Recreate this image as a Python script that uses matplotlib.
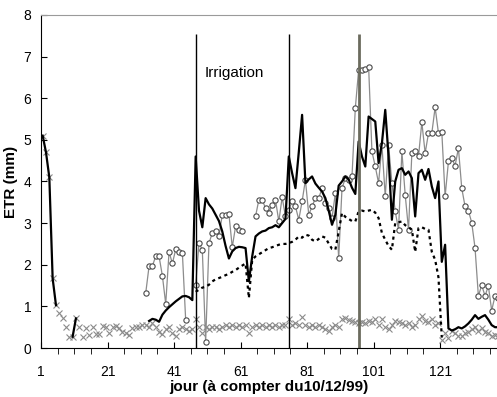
"""
ETR (mm) per day, with the three irrigation dates marked.
"""
import matplotlib
matplotlib.use("Agg")
import matplotlib.pyplot as plt
import numpy as np

plt.rcParams["font.family"] = ["Liberation Sans Narrow", "Liberation Sans", "DejaVu Sans"]

nan = np.nan
days = np.arange(1, 139)

# soil evaporation (crosses), days 1..138
etr_sol = [
    5.1, 4.7, 4.1, 1.67, 1.03, 0.83, 0.71, 0.51, 0.27, 0.27,
    0.71, 0.51, 0.27, 0.47, 0.31, 0.51, 0.34, 0.34, 0.53, 0.51,
    0.35, 0.51, 0.53, 0.47, 0.39, 0.35, 0.31, 0.47, 0.51, 0.51,
    0.55, 0.55, 0.51, 0.59, 0.51, 0.39, 0.34, 0.45, 0.5, 0.35,
    0.3, 0.45, 0.5, 0.45, 0.4, 0.45, 0.7, 0.5, 0.35, 0.5,
    0.45, 0.5, 0.5, 0.45, 0.5, 0.55, 0.5, 0.55, 0.5, 0.55,
    0.5, 0.55, 0.35, 0.5, 0.55, 0.5, 0.55, 0.5, 0.55, 0.5,
    0.55, 0.5, 0.55, 0.55, 0.7, 0.55, 0.6, 0.55, 0.75, 0.55,
    0.5, 0.55, 0.5, 0.55, 0.5, 0.45, 0.4, 0.5, 0.55, 0.5,
    0.7, 0.72, 0.68, 0.65, 0.62, 0.6, 0.62, 0.6, 0.65, 0.62,
    0.7, 0.55, 0.7, 0.5, 0.45, 0.55, 0.65, 0.62, 0.6, 0.55,
    0.6, 0.5, 0.55, 0.7, 0.78, 0.65, 0.62, 0.7, 0.55, 0.6,
    0.2, 0.35, 0.25, 0.4, 0.35, 0.3, 0.3, 0.35, 0.38, 0.45,
    0.5, 0.4, 0.48, 0.38, 0.35, 0.3, 0.32, 0.3,
]

# measured ETR (circles), days 1..138
etr_mesure = (
    [nan] * 31
    + [1.33, 1.97, 1.97, 2.21, 2.2, 1.73, 1.06, 2.31, 2.03, 2.37,
       2.31, 2.29, 0.67, nan, nan, 1.51, 2.52, 2.36, 0.15, 2.52,
       2.76, 2.8, 2.68, 3.2, 3.2, 3.22, 2.42, 2.92, 2.84, 2.8,
       nan, nan, nan, 3.16, 3.56, 3.56, 3.36, 3.24, 3.44, 3.56,
       3.04, 3.62, 3.16, 3.32, 3.52, 3.4, 3.08, 3.52, 4.04, 3.2,
       3.4, 3.6, 3.6, 3.84, 3.48, 3.36, 3.12, 3.72, 2.15, 3.84,
       4.08, 4.04, 4.12, 5.76, 6.68, 6.68, 6.7, 6.76, 4.72, 4.36,
       3.96, 4.88, 3.64, 4.88, 3.96, 3.28, 2.84, 4.72, 3.68, 2.84,
       4.68, 4.72, 4.6, 5.42, 4.68, 5.16, 5.16, 5.78, 5.16, 5.2,
       3.64, 4.48, 4.56, 4.38, 4.8, 3.84, 3.4, 3.3, 3.01, 2.4,
       1.25, 1.51, 1.25, 1.49, 0.9, 1.25, 1.2]
)

# simulated ETR (thick black line), days 1..138
etr_simule = (
    [5.1, 4.7, 4.1, 1.67, 1.03, nan, nan, nan, nan, 0.27, 0.71]
    + [nan] * 21
    + [0.65, 0.7, 0.68, 0.63, 0.8, 0.9, 0.98, 1.05, 1.12, 1.18,
       1.24, 1.25, 1.22, 1.15, 4.6, 3.3, 2.9, 3.6, 3.45, 3.35,
       3.2, 3.05, 2.8, 2.45, 2.15, 2.32, 2.4, 2.43, 2.42, 2.4,
       1.6, 2.2, 2.68, 2.75, 2.8, 2.82, 2.88, 2.9, 2.95, 2.9,
       3.0, 3.1, 4.6, 4.2, 3.84, 4.7, 5.6, 3.96, 4.05, 4.12,
       3.95, 3.85, 3.76, 3.6, 3.3, 2.96, 3.2, 3.9, 4.0, 4.12,
       4.05, 3.85, 3.7, 4.96, 4.6, 4.36, 5.56, 5.5, 5.44, 4.44,
       4.92, 5.72, 4.6, 3.08, 4.0, 4.28, 4.32, 4.16, 4.24, 4.08,
       3.16, 4.2, 4.28, 4.04, 4.3, 3.88, 3.6, 4.0, 2.07, 2.48,
       0.47, 0.42, 0.45, 0.5, 0.47, 0.52, 0.59, 0.68, 0.79, 0.7,
       0.75, 0.79, 0.68, 0.55, 0.5, 0.5]
)

# ETM (dotted line), days 1..138
etm = (
    [nan] * 46
    + [1.35, 1.4, 1.45, 1.47, 1.52, 1.6, 1.65, 1.68, 1.71, 1.75,
       1.78, 1.83, 1.87, 1.93, 1.98, 2.03, 1.2, 2.12, 2.2, 2.25,
       2.3, 2.35, 2.4, 2.42, 2.45, 2.48, 2.5, 2.5, 2.52, 2.55,
       2.6, 2.68, 2.65, 2.72, 2.7, 2.6, 2.56, 2.62, 2.68, 2.65,
       2.51, 2.38, 2.36, 2.8, 3.24, 3.15, 3.1, 3.05, 3.04, 3.28,
       3.3, 3.28, 3.3, 3.32, 3.25, 3.12, 2.76, 2.6, 2.45, 2.36,
       3.0, 3.02, 3.04, 2.95, 2.9, 2.84, 2.31, 2.88, 2.9, 2.86,
       2.84, 2.31, 2.12, 1.7, 0.25]
)
etm = etm + [nan] * (len(days) - len(etm))

irrigation_days = [47, 75, 96]
irrigation_top = 7.55

fig = plt.figure(figsize=(4.97, 3.97), dpi=100)
ax = fig.add_axes([0.0825, 0.1234, 0.9175, 0.839])

ax.plot(days, etr_sol, linestyle="none", marker="x", ms=4, mew=0.8, color="#8a8a8a")
ax.plot(days, etr_mesure, color="#8c8c8c", lw=0.9, marker="o", ms=3.8,
        mfc="white", mec="#4a4a4a", mew=0.8)
ax.plot(days, etr_simule, color="black", lw=1.6)
ax.plot(days, etm, color="black", lw=1.6, linestyle=(0, (1.4, 1.6)))

ax.vlines(irrigation_days[:2], 0, irrigation_top, color="black", lw=1.0)
ax.vlines(irrigation_days[2:], 0, irrigation_top, color="#6b6b5e", lw=2.0)
ax.text(49.8, 6.6, "Irrigation", fontsize=11, va="center", ha="left")

ax.set_xlim(0.5, 137.6)
ax.set_ylim(0, 8)
ax.set_yticks(range(0, 9))
ax.set_xticks(np.arange(0.5, 137, 20))
ax.set_xticklabels([str(int(t + 0.5)) for t in np.arange(0.5, 137, 20)])
ax.set_xticks(np.arange(0.5, 137.6, 5), minor=True)
ax.tick_params(axis="both", direction="in", labelsize=10)
ax.tick_params(axis="x", which="both", length=4, pad=12)
ax.tick_params(axis="y", length=4, pad=7)

ax.spines["right"].set_visible(False)
ax.spines["top"].set_color("#9a9a9a")

ax.set_ylabel("ETR (mm)", fontsize=11, fontweight="bold", labelpad=4)
ax.set_xlabel("jour (à compter du10/12/99)", fontsize=11, fontweight="bold", labelpad=1)

fig.savefig("out.png", dpi=100)
